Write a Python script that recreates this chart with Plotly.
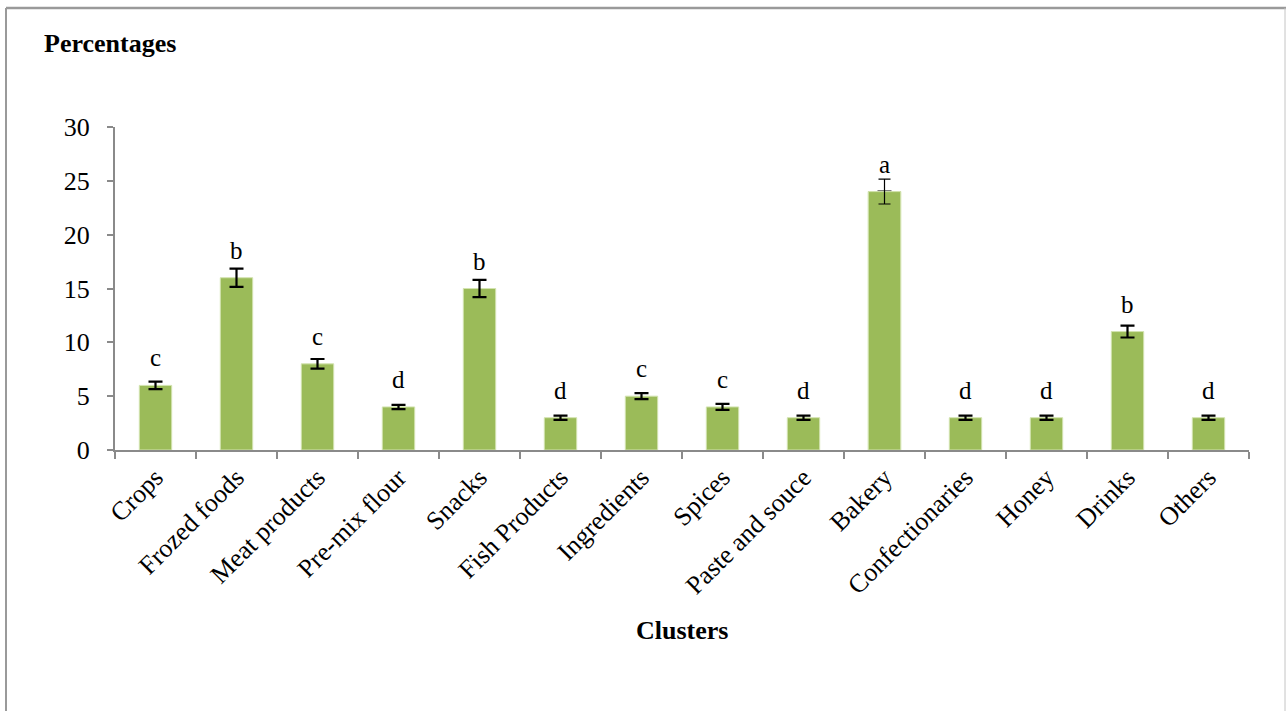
import plotly.graph_objects as go

# Cluster shares with standard errors and significance letters
clusters = ["Crops", "Frozed foods", "Meat products", "Pre-mix flour", "Snacks",
            "Fish Products", "Ingredients", "Spices", "Paste and souce", "Bakery",
            "Confectionaries", "Honey", "Drinks", "Others"]
percentages = [6, 16, 8, 4, 15, 3, 5, 4, 3, 24, 3, 3, 11, 3]
std_errors = [0.35, 0.85, 0.45, 0.2, 0.8, 0.2, 0.28, 0.28, 0.2, 1.15, 0.2, 0.2, 0.55, 0.2]
letters = ["c", "b", "c", "d", "b", "d", "c", "c", "d", "a", "d", "d", "b", "d"]

y_ticks = [0, 5, 10, 15, 20, 25, 30]

SERIF = "Liberation Serif"
BAR_GREEN = "#9BBB59"
AXIS_GREY = "#8a8a8a"

# Bakery gets a thinner whisker, so its error bar lives in its own trace
thin_idx = [i for i, c in enumerate(clusters) if c == "Bakery"]
main_err = [None if i in thin_idx else e for i, e in enumerate(std_errors)]

fig = go.Figure()
fig.add_trace(go.Bar(
    x=clusters, y=percentages,
    marker=dict(color=BAR_GREEN, line=dict(color="#d3e3b0", width=1)),
    error_y=dict(type="data", array=main_err, visible=True,
                 color="black", thickness=2.2, width=7),
    hoverinfo="x+y", showlegend=False,
))
fig.add_trace(go.Bar(
    x=[clusters[i] for i in thin_idx], y=[percentages[i] for i in thin_idx],
    marker=dict(color=BAR_GREEN, line=dict(color="#d3e3b0", width=1)),
    error_y=dict(type="data", array=[std_errors[i] for i in thin_idx], visible=True,
                 color="black", thickness=1.2, width=6),
    hoverinfo="x+y", showlegend=False,
))

annotations = []
for c, v, lab in zip(clusters, percentages, letters):
    annotations.append(dict(
        x=c, y=v, xref="x", yref="y", text=lab, showarrow=False,
        yanchor="bottom", yshift=12,
        font=dict(family=SERIF, size=25, color="black"),
    ))

L, R, T, B = 115, 37, 127, 261
W, H = 1286, 711
pw, ph = W - L - R, H - T - B


def px(xpix):
    return (xpix - L) / pw


def py(ypix):
    return (H - B - ypix) / ph


annotations.append(dict(
    x=px(42), y=py(43), xref="paper", yref="paper", text="<b>Percentages</b>",
    showarrow=False, xanchor="left", yanchor="middle",
    font=dict(family=SERIF, size=26, color="black"),
))
annotations.append(dict(
    x=px(682), y=py(630), xref="paper", yref="paper", text="<b>Clusters</b>",
    showarrow=False, xanchor="center", yanchor="middle",
    font=dict(family=SERIF, size=26, color="black"),
))

# Outer frame around the whole chart
frame = [
    dict(x0=px(6), x1=px(1286), y0=py(8), y1=py(8), color="#9a9a9a", width=2.5),
    dict(x0=px(6), x1=px(6), y0=py(8), y1=py(720), color="#9a9a9a", width=2),
    dict(x0=px(1285), x1=px(1285), y0=py(8), y1=py(720), color="#c4c4c4", width=1),
]
shapes = [dict(type="line", xref="paper", yref="paper",
               x0=f["x0"], x1=f["x1"], y0=f["y0"], y1=f["y1"],
               line=dict(color=f["color"], width=f["width"]), layer="above")
          for f in frame]

fig.update_layout(
    width=W, height=H,
    margin=dict(l=L, r=R, t=T, b=B, autoexpand=False),
    paper_bgcolor="white", plot_bgcolor="white",
    barmode="overlay", bargap=0.6,
    annotations=annotations, shapes=shapes,
    font=dict(family=SERIF, color="black"),
    xaxis=dict(
        type="category", showgrid=False, zeroline=False,
        showline=True, linecolor=AXIS_GREY, linewidth=2,
        ticks="outside", tickson="boundaries", ticklen=7,
        tickcolor=AXIS_GREY, tickwidth=1.5,
        tickangle=-45, tickfont=dict(family=SERIF, size=26, color="black"),
    ),
    yaxis=dict(
        range=[0, 30], tickvals=y_ticks, showgrid=False, zeroline=False,
        showline=True, linecolor=AXIS_GREY, linewidth=2,
        ticks="outside", ticklen=6, tickcolor=AXIS_GREY, tickwidth=1.5,
        tickfont=dict(family=SERIF, size=26, color="black"),
        ticklabelstandoff=12,
    ),
)

fig.write_html("out.html")
